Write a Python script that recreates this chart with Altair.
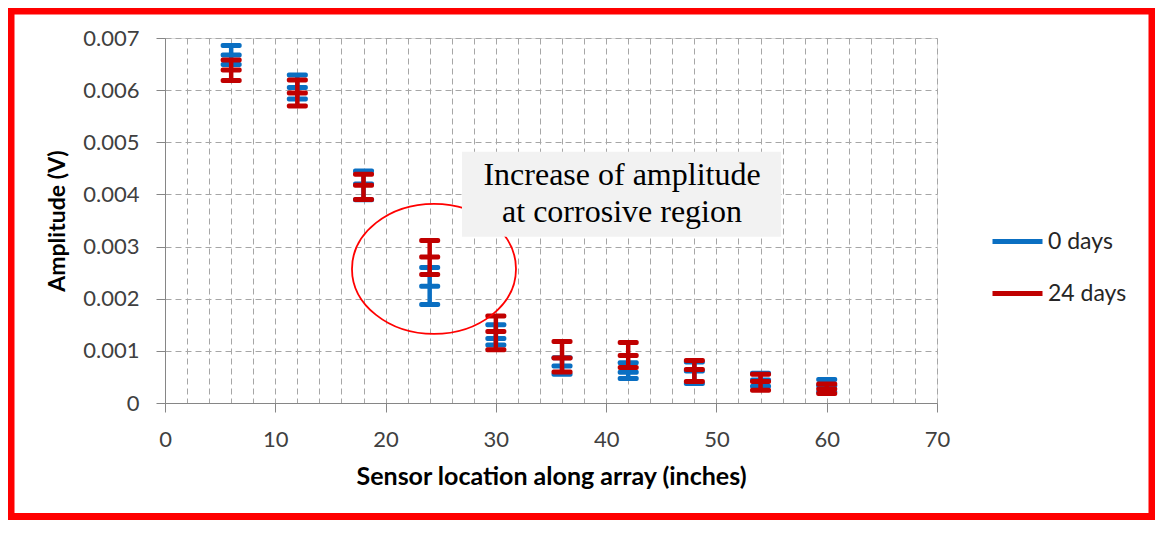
import altair as alt
import pandas as pd

# ---- data ----
positions = [6, 12, 18, 24, 30, 36, 42, 48, 54, 60]
series_names = ["0 days", "24 days"]
series_colors = ["#0A6FC2", "#C00000"]

blue_mean = [0.006674, 0.006051, 0.004200, 0.002238, 0.001237, 0.000710, 0.000590, 0.000614, 0.000440, 0.000330]
blue_low  = [0.006492, 0.005830, 0.003900, 0.001889, 0.001110, 0.000550, 0.000470, 0.000374, 0.000320, 0.000210]
blue_high = [0.006857, 0.006291, 0.004450, 0.002599, 0.001500, 0.000870, 0.000770, 0.000787, 0.000570, 0.000450]

red_mean = [0.006386, 0.005946, 0.004175, 0.002800, 0.001370, 0.000863, 0.000910, 0.000643, 0.000410, 0.000270]
red_low  = [0.006185, 0.005696, 0.003903, 0.002465, 0.001020, 0.000595, 0.000680, 0.000413, 0.000245, 0.000180]
red_high = [0.006578, 0.006195, 0.004388, 0.003117, 0.001670, 0.001180, 0.001160, 0.000816, 0.000550, 0.000364]

x_grid_values = list(range(0, 71, 2))
y_grid_values = [0, 0.001, 0.002, 0.003, 0.004, 0.005, 0.006, 0.007]

annotation_lines = ["Increase of amplitude", "at corrosive region"]
note_box = {"x": 26.93, "x2": 55.85, "y": 0.004818, "y2": 0.003186}
note_text = {"x": 41.44, "y": 0.004184}
ellipse_center = {"x": 24.39, "y": 0.002572}

rows = []
for name, mean, low, high in [("0 days", blue_mean, blue_low, blue_high),
                              ("24 days", red_mean, red_low, red_high)]:
    for x, m, l, h in zip(positions, mean, low, high):
        rows.append({"series": name, "x": x, "mean": m, "low": l, "high": h})
df = pd.DataFrame(rows)

FONT = "Lato"
xscale = alt.Scale(domain=[0, 70], nice=False, zero=False)
yscale = alt.Scale(domain=[0, 0.007], nice=False)

xaxis = alt.Axis(
    values=x_grid_values,
    labelExpr="datum.value % 10 === 0 ? datum.label : ''",
    tickOpacity={"condition": {"test": "datum.value % 10 === 0", "value": 1}, "value": 0},
    grid=True, gridDash=[6, 4], gridColor="#A6A6A6", gridWidth=1,
    domainColor="#868686", tickColor="#868686", tickSize=9,
    labelFont=FONT, labelFontSize=22, labelColor="#404040", labelPadding=17,
    labelOverlap=False, labelFlush=False,
    title="Sensor location along array (inches)",
    titleFont=FONT, titleFontSize=25, titleFontWeight="bold", titleColor="#000000",
    titlePadding=14,
)
yaxis = alt.Axis(
    values=y_grid_values,
    labelExpr="datum.value === 0 ? '0' : format(datum.value, '.3f')",
    grid=True, gridDash=[6, 4], gridColor="#A6A6A6", gridWidth=1,
    domainColor="#868686", tickColor="#868686", tickSize=9,
    labelFont=FONT, labelFontSize=22, labelColor="#404040", labelPadding=17,
    labelFlush=False,
    title="Amplitude (V)",
    titleFont=FONT, titleFontSize=23, titleFontWeight="bold", titleColor="#000000",
    titlePadding=13,
)

color = alt.Color(
    "series:N",
    scale=alt.Scale(domain=series_names, range=series_colors),
    legend=alt.Legend(
        orient="none", legendX=825, legendY=176, title=None,
        symbolType="stroke", symbolSize=2500, symbolStrokeWidth=5,
        labelFont=FONT, labelFontSize=23, labelColor="#262626",
        labelOffset=3, rowPadding=12, padding=0,
    ),
)


def X(field="x"):
    return alt.X(f"{field}:Q", scale=xscale, axis=xaxis)


def Y(field):
    return alt.Y(f"{field}:Q", scale=yscale, axis=yaxis)


layers = []
for name in series_names:
    base = alt.Chart(df).transform_filter(alt.datum.series == name)
    layers.append(base.mark_rule(strokeWidth=4.5).encode(x=X(), y=Y("low"), y2="high:Q", color=color))
    for fld in ["low", "high", "mean"]:
        layers.append(
            base.mark_tick(orient="horizontal", size=21, thickness=5, cornerRadius=2, opacity=1)
            .encode(x=X(), y=Y(fld), color=color)
        )

ellipse_path = ("M-1,0C-1,-0.438,-0.5523,-0.793,0,-0.793C0.5523,-0.793,1,-0.438,1,0"
                "C1,0.438,0.5523,0.793,0,0.793C-0.5523,0.793,-1,0.438,-1,0Z")
ellipse = alt.Chart(pd.DataFrame([ellipse_center])).mark_point(
    shape=ellipse_path, size=26896, filled=False, stroke="#FF0000", strokeWidth=1.8, opacity=1
).encode(x=X(), y=Y("y"))

box = alt.Chart(pd.DataFrame([note_box])).mark_rect(fill="#F2F2F2").encode(
    x=X(), x2="x2:Q", y=Y("y"), y2="y2:Q"
)

text = alt.Chart(pd.DataFrame([note_text])).mark_text(
    text=annotation_lines, font="Liberation Serif", fontSize=32, lineHeight=37,
    align="center", baseline="alphabetic", color="#000000"
).encode(x=X(), y=Y("y"))

frame = alt.Chart(pd.DataFrame([{"k": 1}])).mark_rect(
    fill="transparent", stroke="#FF0000", strokeWidth=7
).encode(x=alt.value(-154), x2=alt.value(987), y=alt.value(-27), y2=alt.value(478.5))

chart = alt.layer(*layers, ellipse, box, text, frame).properties(
    width=772, height=365,
    autosize=alt.AutoSizeParams(type="none"),
    padding={"left": 157, "top": 30, "right": 218, "bottom": 117},
).configure_view(stroke=None).configure(background="white")

chart.save("out.html", embed_options={"renderer": "svg", "actions": False})
